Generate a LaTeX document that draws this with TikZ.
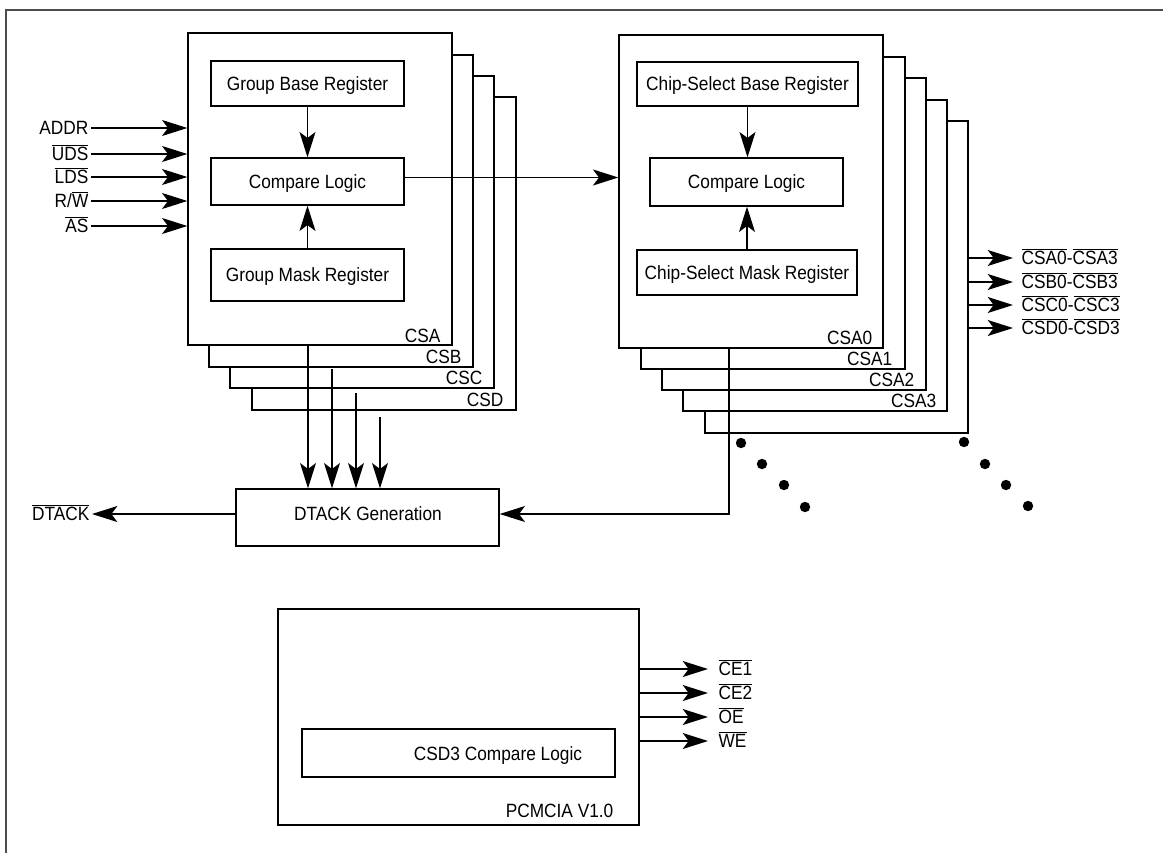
\documentclass[tikz,border=0pt]{standalone}
\usepackage{fontspec}
\setmainfont{Liberation Sans}[FakeStretch=0.9]
\usetikzlibrary{arrows.meta,fit}
\newcommand{\sigfont}{\fontsize{14.4}{16}\selectfont}
% active-low signal: bar over the name
\newcommand{\ol}[1]{\leavevmode\vbox{\hrule height 0.65pt\kern1.5pt\hbox{#1}}}
\begin{document}
\begin{tikzpicture}[x=0.75pt, y=-0.75pt, line width=1pt,
  box/.style={draw, fill=white, inner sep=0pt},
  tag/.style={font=\sigfont, inner sep=0pt, text height=10.3pt, text depth=0pt},
  reg/.style={box, label={[tag]center:#1}},
  arr/.style={-{Stealth[length=19pt,width=12pt,inset=4.5pt]}},
  frame/.style={draw=black!70, line width=1.2pt},
  dot/.style={fill=black}]
\useasboundingbox (0,0) rectangle (1163,853);
\draw[frame] (6,853) -- (6,10) -- (1163,10);

% ---- group chip-select stack (CSA..CSD)
\node[box, fit={(252,97) (516,410)}] (csd) {};
\node[box, fit={(230,76) (494,388)}] (csc) {};
\node[box, fit={(209,55) (473,367)}] (csb) {};
\node[box, fit={(188,33) (452,345)}] (csa) {};
\node[tag, anchor=base east] (tcsa) at (441,342) {CSA};
\node[tag, anchor=base east] (tcsb) at (462,363) {CSB};
\node[tag, anchor=base east] (tcsc) at (483,384) {CSC};
\node[tag, anchor=base east] (tcsd) at (504,406) {CSD};

\node[reg=Group Base Register, fit={(211,61) (404,106)}] (gbase) {};
\node[reg=Compare Logic, fit={(211,158) (404,205)}] (gcmp) {};
\node[reg=Group Mask Register, fit={(211,249) (404,301)}] (gmask) {};
\draw[arr] (gbase.south) -- (gcmp.north);
\draw[arr] (gmask.north) -- (gcmp.south);

% ---- bus inputs
\node[tag, anchor=east] (iaddr) at (89,128) {ADDR};
\node[tag, anchor=east] (iuds) at (89,154) {\ol{UDS}};
\node[tag, anchor=east] (ilds) at (89,177) {\ol{LDS}};
\node[tag, anchor=east] (irw) at (89,201) {R/\ol{W}};
\node[tag, anchor=east] (ias) at (89,226) {\ol{AS}};
\foreach \n in {iaddr,iuds,ilds,irw,ias}
  \draw[arr] ([xshift=1.5pt]\n.east) -- (\n.east -| csa.west);

% ---- individual chip-select stack (CSA0..CSA3)
\node[box, fit={(705,121) (968,433)}] (csa4) {};
\node[box, fit={(683,100) (947,411)}] (csa3) {};
\node[box, fit={(662,78) (926,390)}] (csa2) {};
\node[box, fit={(641,57) (905,369)}] (csa1) {};
\node[box, fit={(619,35) (883,348)}] (csa0) {};
\node[tag, anchor=base east] (tcsa0) at (873,344) {CSA0};
\node[tag, anchor=base east] (tcsa1) at (893,365) {CSA1};
\node[tag, anchor=base east] (tcsa2) at (915,386) {CSA2};
\node[tag, anchor=base east] (tcsa3) at (937,407) {CSA3};

\node[reg=Chip-Select Base Register, fit={(637,62) (858,106)}] (cbase) {};
\node[reg=Compare Logic, fit={(650,158) (843,206)}] (ccmp) {};
\node[reg=Chip-Select Mask Register, fit={(637,250) (857,295)}] (cmask) {};
\draw[arr] (cbase.south) -- (cbase.south |- ccmp.north);
\draw[arr] (cmask.north) -- (cmask.north |- ccmp.south);

\draw[arr] ([yshift=3pt]gcmp.east) -- ([yshift=3pt]gcmp.east -| csa0.west);

% ---- chip-select outputs
\node[tag, anchor=west] (oa) at (1021,258) {\ol{CSA0}-\ol{CSA3}};
\node[tag, anchor=west] (ob) at (1021,282) {\ol{CSB0}-\ol{CSB3}};
\node[tag, anchor=west] (oc) at (1021,305) {\ol{CSC0}-\ol{CSC3}};
\node[tag, anchor=west] (od) at (1021,328) {\ol{CSD0}-\ol{CSD3}};
\foreach \n in {oa,ob,oc,od}
  \draw[arr] (\n.west -| csa4.east) -- ([xshift=-6pt]\n.west);

% ---- DTACK generation
\node[box, fit={(236,489) (499,546)}] (dtack) {};
\node[tag] (dtacktxt) at (368,514) {DTACK Generation};
\coordinate (d1) at (308,345);
\coordinate (d2) at (332,369);
\coordinate (d3) at (356,393);
\coordinate (d4) at (380,417);
\foreach \c in {d1,d2,d3,d4}
  \draw[arr] (\c) -- (\c |- dtack.north);

\coordinate (tap) at (729,348);
\coordinate (bend) at (729,514);
\draw[arr] (tap) -- (bend) -- (bend -| dtack.east);

\node[tag, anchor=east] (dtackout) at (90,514) {\ol{DTACK}};
\draw[arr] (bend -| dtack.west) -- ([xshift=1.5pt]dtackout.east);

% ---- continuation dots
\foreach \p in {(741,443),(762,464),(784,485),(805,507),
                (964,442),(985,464),(1006,485),(1028,506)}
  \fill[dot] \p circle (3.9pt);

% ---- PCMCIA block
\node[box, fit={(278,609) (639,825)}] (pcm) {};
\node[box, fit={(302,729) (615,777)}] (csd3) {};
\node[tag, anchor=base] (csd3txt) at (498,760) {CSD3 Compare Logic};
\node[tag, anchor=base east] (pcmtag) at (614,817) {PCMCIA V1.0};

\node[tag, anchor=west] (ce1) at (718,669) {\ol{CE1}};
\node[tag, anchor=west] (ce2) at (718,693) {\ol{CE2}};
\node[tag, anchor=west] (oe) at (718,717) {\ol{OE}};
\node[tag, anchor=west] (we) at (718,741) {\ol{WE}};
\foreach \n in {ce1,ce2,oe,we}
  \draw[arr] (\n.west -| pcm.east) -- ([xshift=-7.5pt]\n.west);
\end{tikzpicture}
\end{document}
